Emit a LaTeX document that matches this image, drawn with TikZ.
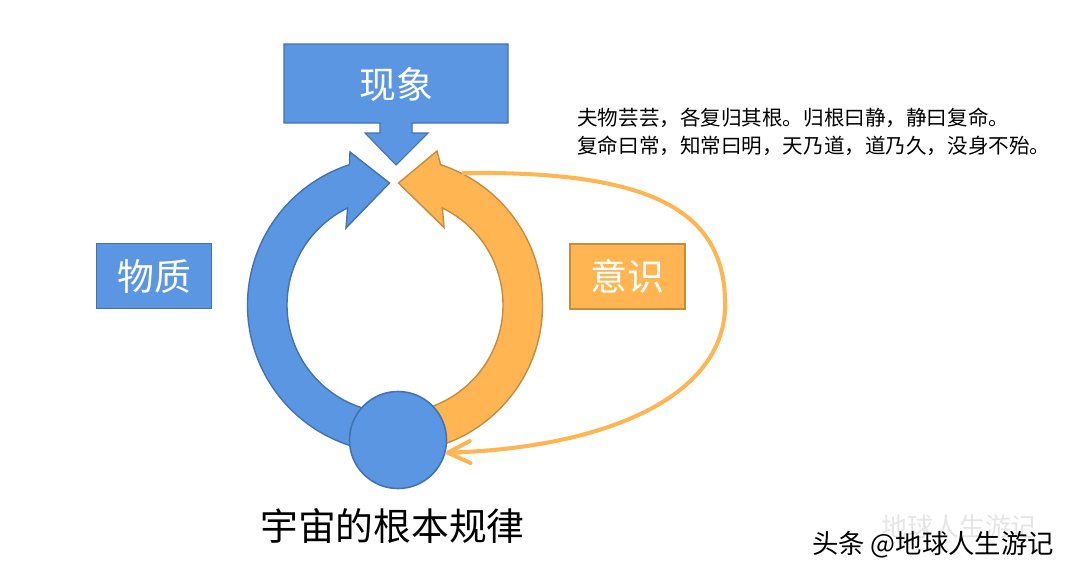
\documentclass[tikz,border=0pt]{standalone}
\usepackage{fontspec}
\setmainfont{Noto Sans CJK SC}
\definecolor{ringblue}{RGB}{91,150,226}
\definecolor{ringblueline}{RGB}{66,114,176}
\definecolor{ringorange}{RGB}{255,182,82}
\definecolor{ringorangeline}{RGB}{196,140,62}
\usetikzlibrary{shapes,arrows,arrows.meta,positioning,calc}

\begin{document}
\begin{tikzpicture}[x=0.2mm,y=-0.2mm,
    label box/.style={rectangle,draw,line width=0.9pt,minimum width=23mm,minimum height=13mm,inner sep=0pt,text=white,font=\fontsize{21}{25}\selectfont},
    band/.style={line width=0.8pt,line join=miter}]
    \useasboundingbox (0,0) rectangle (1080,578);
    \coordinate (C) at (395,305);

    % Top callout
    \filldraw[fill=ringblue,draw=ringblueline,line width=0.6pt] (284,44) -- (508,44) -- (508,123) -- (412,123) -- (412,133) -- (428,133) -- (396,165) -- (365,133) -- (380,133) -- (380,123) -- (284,123) -- cycle;
    \node[text=white,font=\fontsize{21}{25}\selectfont] (xianxiang) at (396,84) {现象};

    % Ring arrows
    \filldraw[band,fill=ringblue,draw=ringblueline]
        ($(C)+(90:147.5)$) arc[start angle=90,end angle=252,radius=147.5]
        -- (350,152) -- (389.5,183) -- (346,228)
        -- ($(C)+(244:108)$) arc[start angle=244,end angle=90,radius=108] -- cycle;
    \filldraw[band,fill=ringorange,draw=ringorangeline]
        ($(C)+(90:147.5)$) arc[start angle=90,end angle=-72,radius=147.5]
        -- (437,151) -- (398.5,183) -- (444,227.5)
        -- ($(C)+(-64:108)$) arc[start angle=-64,end angle=90,radius=108] -- cycle;

    % Root circle
    \node[circle,draw=ringblueline,fill=ringblue,line width=0.9pt,minimum size=19.4mm,inner sep=0pt] (root) at (398,440) {};

    % Side boxes
    \node[label box,fill=ringblue,draw=ringblueline] (wuzhi) at (154,276) {物质};
    \node[label box,fill=ringorange,draw=ringorangeline] (yishi) at (627.5,276.5) {意识};

    % Feedback line
    \coordinate (lstart) at ($(C)+(-63:148)$);
    \draw[ringorange,line width=2.3pt,-{Straight Barb[length=4.5mm,width=4.4mm,round]}]
        (lstart) .. controls (660,170) and (728,215) .. (725,310)
        .. controls (720,400) and (600,448) .. (root.-15);

    % Texts
    \node[anchor=north west,align=left,inner sep=0pt,font=\fontsize{11.7}{15.9}\selectfont] (quote) at (577,108)
        {夫物芸芸，各复归其根。归根曰静，静曰复命。\\复命曰常，知常曰明，天乃道，道乃久，没身不殆。};
    \node[font=\fontsize{21.5}{26}\selectfont] (law) at (392.5,526) {宇宙的根本规律};
    \node[anchor=east,text=black!10,font=\fontsize{14.7}{18}\selectfont] (markfaded) at (1043,527) {地球人生游记};
    \node[anchor=east,font=\fontsize{15}{18}\selectfont] (mark) at (1060,545) {头条 @地球人生游记};
\end{tikzpicture}
\end{document}
